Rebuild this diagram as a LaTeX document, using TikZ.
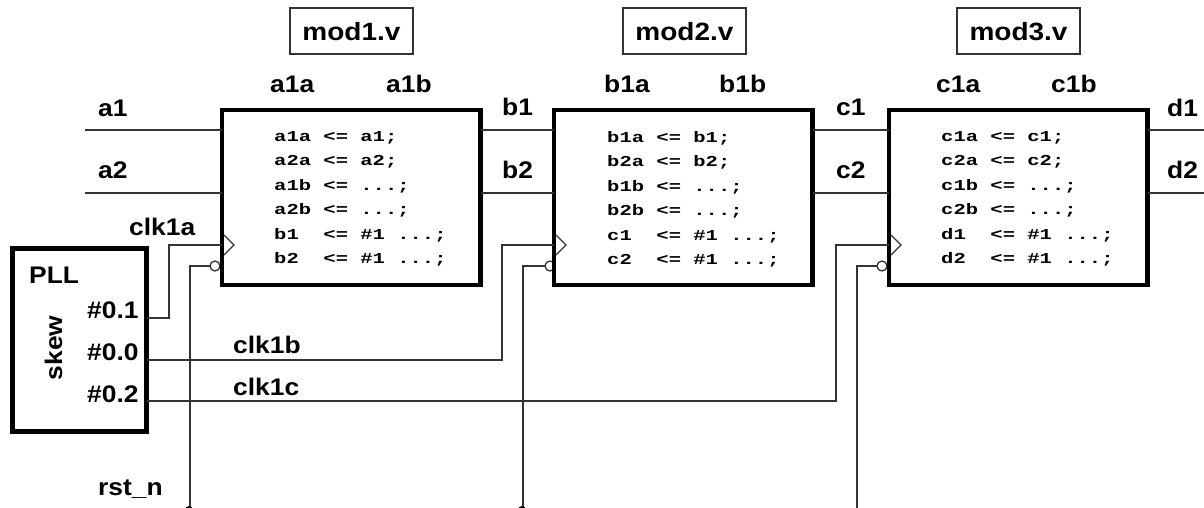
\documentclass[tikz,border=0pt]{standalone}
\usepackage{fontspec}
\setmainfont{Liberation Sans}
\newfontfamily\labfont[FakeStretch=1.1]{Liberation Sans}
\newfontfamily\namefont[FakeStretch=1.12]{Liberation Sans}
\newfontfamily\codefont[FakeStretch=1.35]{Liberation Mono}
\definecolor{wire}{gray}{0.2}
\tikzset{
  x=1pt,y=-1pt,
  lab/.style={font=\fontsize{24}{24}\selectfont\labfont\bfseries,inner sep=0pt,text=black,anchor=base west},
  code/.style={font=\fontsize{15.2}{24.5}\selectfont\codefont\bfseries,inner sep=0pt,anchor=north west,align=left},
  modbox/.style={draw=black,line width=4.5pt,fill=white,inner sep=0pt,outer sep=0pt,anchor=north west,minimum width=258.5pt,minimum height=175pt},
  pllbox/.style={draw=black,line width=5pt,fill=white,inner sep=0pt,outer sep=0pt,anchor=north west,minimum width=134pt,minimum height=183pt},
  namebox/.style={draw=wire,line width=1.3pt,inner sep=0pt,minimum width=123pt,minimum height=46pt,text height=20pt,text depth=0pt,font=\fontsize{25}{25}\selectfont\namefont\bfseries},
  wirel/.style={draw=wire,line width=1.5pt},
  clkmark/.style={draw=wire,line width=1.3pt,fill=white},
  rstmark/.style={draw=wire,line width=1.3pt,fill=white},
}
\begin{document}
\begin{tikzpicture}
\useasboundingbox (0,0) rectangle (1204,508);
% name boxes
\node[namebox] (n1) at (351.5,31) {mod1.v};
\node[namebox] (n2) at (684.5,31) {mod2.v};
\node[namebox] (n3) at (1018.5,31) {mod3.v};
% free wire ends
\coordinate (a1s) at (85,130);
\coordinate (a2s) at (85,193);
\coordinate (d1e) at (1204,130);
\coordinate (d2e) at (1204,193);
\coordinate (r1) at (190,508);
\coordinate (r2) at (523,508);
\coordinate (r3) at (857,508);
% reset bubbles sit behind the module frames
\draw[wirel] (r1) -- (190,266) -- (210,266);
\draw[wirel] (r2) -- (523,266) -- (545,266);
\draw[wirel] (r3) -- (857,266) -- (877,266);
\draw[rstmark] (215,266) circle (5pt);
\draw[rstmark] (550,266) circle (5pt);
\draw[rstmark] (882,266) circle (5pt);
\fill[black] (189,510) circle (4pt);
\fill[black] (522,510) circle (4pt);
% modules
\node[modbox] (m1) at (222,110) {};
\node[modbox] (m2) at (554,110) {};
\node[modbox] (m3) at (889,110) {};
\node[pllbox] (pll) at (12.5,248.5) {};
% data wires
\draw[wirel] (a1s) -- (a1s -| m1.west);
\draw[wirel] (a2s) -- (a2s -| m1.west);
\draw[wirel] (a1s -| m1.east) -- (a1s -| m2.west);
\draw[wirel] (a2s -| m1.east) -- (a2s -| m2.west);
\draw[wirel] (a1s -| m2.east) -- (a1s -| m3.west);
\draw[wirel] (a2s -| m2.east) -- (a2s -| m3.west);
\draw[wirel] (d1e -| m3.east) -- (d1e);
\draw[wirel] (d2e -| m3.east) -- (d2e);
% clocks
\draw[wirel] (pll.east |- 0,318) -- (169,318) -- (169,245) -- (m1.west |- 0,245);
\draw[wirel] (pll.east |- 0,360) -- (502,360) -- (502,245) -- (m2.west |- 0,245);
\draw[wirel] (pll.east |- 0,401) -- (836,401) -- (836,245) -- (m3.west |- 0,245);
% clock triangles
\foreach \x in {222,554,889}{
  \draw[clkmark] (\x+2,235) -- (\x+12,245) -- (\x+2,255);
}
% labels
\node[lab] (la1a) at (270,93) {a1a};
\node[lab] (la1b) at (386,93) {a1b};
\node[lab] (lb1a) at (604,93) {b1a};
\node[lab] (lb1b) at (719,93) {b1b};
\node[lab] (lc1a) at (936,93) {c1a};
\node[lab] (lc1b) at (1051,93) {c1b};
\node[lab] (la1) at (98,117) {a1};
\node[lab] (la2) at (98,178) {a2};
\node[lab] (lb1) at (502,116) {b1};
\node[lab] (lb2) at (502,178) {b2};
\node[lab] (lc1) at (836,116) {c1};
\node[lab] (lc2) at (836,178) {c2};
\node[lab] (ld1) at (1167,117) {d1};
\node[lab] (ld2) at (1167,178) {d2};
\node[lab] (lclka) at (129,235) {clk1a};
\node[lab] (lclkb) at (233,353) {clk1b};
\node[lab] (lclkc) at (233,395) {clk1c};
\node[lab] (lrst) at (98,495) {rst\_n};
\node[lab] (lpll) at (29,283) {PLL};
\node[lab] (l01) at (87,318) {\#0.1};
\node[lab] (l00) at (87,360) {\#0.0};
\node[lab] (l02) at (87,402) {\#0.2};
\node[lab,rotate=90,anchor=base] (lskew) at (62,348) {skew};
% code
\node[code] (c1t) at (274,131) {a1a <= a1;\\a2a <= a2;\\a1b <= ...;\\a2b <= ...;\\b1~~<= \#1 ...;\\b2~~<= \#1 ...;};
\node[code] (c2t) at (607,131) {b1a <= b1;\\b2a <= b2;\\b1b <= ...;\\b2b <= ...;\\c1~~<= \#1 ...;\\c2~~<= \#1 ...;};
\node[code] (c3t) at (941,131) {c1a <= c1;\\c2a <= c2;\\c1b <= ...;\\c2b <= ...;\\d1~~<= \#1 ...;\\d2~~<= \#1 ...;};
\end{tikzpicture}
\end{document}
